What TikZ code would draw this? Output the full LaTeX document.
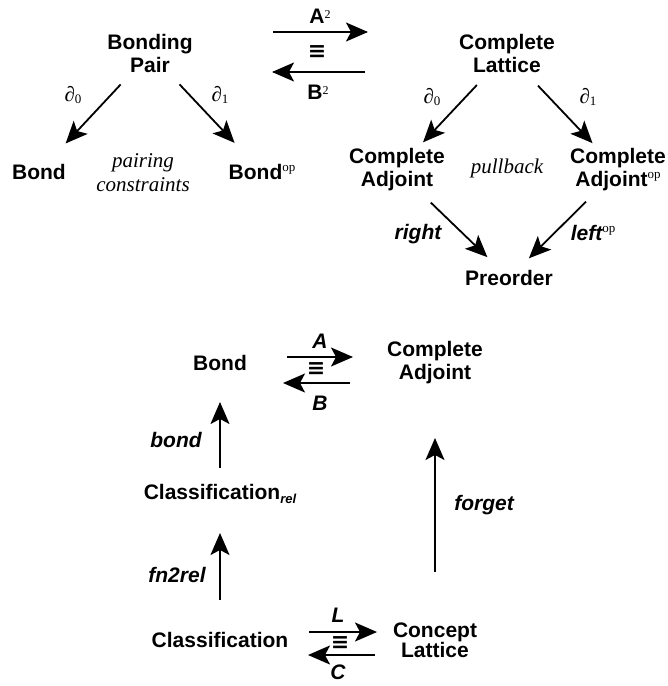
\documentclass[tikz,border=0pt]{standalone}
\usepackage{fontspec}
\setmainfont{Liberation Sans}
\newfontfamily\tms{Liberation Serif}
\newfontfamily\djv{DejaVu Sans}
\usetikzlibrary{arrows.meta}
\newcommand{\supop}{\raisebox{8pt}{\tms\mdseries\upshape\fontsize{13}{13}\selectfont op}}
\newcommand{\suptwo}{\raisebox{5pt}{\tms\mdseries\fontsize{12}{12}\selectfont 2}}
\newcommand{\pd}[1]{{\tms ∂\raisebox{-2pt}{\fontsize{13}{13}\selectfont #1}}}
\newcommand{\relsub}{\raisebox{-4pt}{\fontsize{13}{13}\selectfont\itshape rel}}
\newcommand{\eqv}{{\djv\bfseries\fontsize{22}{22}\selectfont ≡}}

\begin{document}
\begin{tikzpicture}[x=1pt,y=-1pt,
  obj/.style={font=\fontsize{21}{23}\selectfont\bfseries, align=center, inner sep=0pt},
  fn/.style={font=\fontsize{21}{23}\selectfont\bfseries\itshape, inner sep=0pt},
  note/.style={font=\fontsize{21}{24}\selectfont\tms\itshape, align=center, inner sep=0pt},
  dlbl/.style={font=\fontsize{21}{23}\selectfont, inner sep=0pt},
  arr/.style={line width=1.8pt, -{Stealth[length=22pt,width=19pt,inset=5pt]}}]
\useasboundingbox (0,0) rectangle (668,686);
% bonding pair and its projections
\node[obj] (bp) at (150,53) {Bonding\\Pair}; \node[obj] (bondl) at (39,172)
{Bond}; \node[obj] (bondop) at (262,172) {Bond\supop}; \node[note] (pc) at
(143,173) {pairing\\constraints}; \node[dlbl] (d0l) at (73,95) {\pd{0}};
\node[dlbl] (d1l) at (220,95) {\pd{1}};
\draw[arr, shorten <=43pt, shorten >=39pt] (bp.center) -- (bondl.center);
\draw[arr, shorten <=43pt, shorten >=40pt] (bp.center) -- (bondop.center);
% complete lattice as a pullback
\node[obj] (cl) at (507,53) {Complete\\Lattice}; \node[obj] (ca) at (397,170)
{Complete\\Adjoint}; \node[obj] (caop) at (618,170) {Complete\\Adjoint\supop};
\node[note] (pb) at (507,168) {pullback}; \node[obj] (pre) at (509,278)
{Preorder}; \node[dlbl] (d0r) at (432,97) {\pd{0}}; \node[dlbl] (d1r) at
(588,97) {\pd{1}}; \node[fn] (rgt) at (418,234) {right}; \node[fn] (lft) at
(593,233) {left\supop};
\draw[arr, shorten <=44pt, shorten >=38pt] (cl.center) -- (ca.center);
\draw[arr, shorten <=45pt, shorten >=37pt] (cl.center) -- (caop.center);
\draw[arr, shorten <=47pt, shorten >=30pt] (ca.center) -- (pre.center);
\draw[arr, shorten <=45pt, shorten >=28pt] (caop.center) -- (pre.center);
% equivalence at the top
\node[obj] (a2) at (320,16) {A\suptwo}; \node[obj] (eqa) at (317,52) {\eqv};
\node[obj] (b2) at (318,92) {B\suptwo};
\draw[arr, shorten <=123pt, shorten >=139pt] ([yshift=21pt]bp.center) --
([yshift=21pt]cl.center);
\draw[arr, shorten <=142pt, shorten >=122pt] ([yshift=-19pt]cl.center) --
([yshift=-19pt]bp.center);
% bonds and complete adjoints
\node[obj] (bondb) at (220,363) {Bond}; \node[obj] (cab) at (435,363)
{Complete\\Adjoint}; \node[fn] (fa) at (320,341) {A}; \node[obj] (eqb) at
(316,369) {\eqv}; \node[fn] (fb) at (320,403) {B};
\draw[arr, shorten <=67pt, shorten >=82pt] ([yshift=6pt]bondb.center) --
([yshift=6pt]cab.center);
\draw[arr, shorten <=85pt, shorten >=63pt] ([yshift=-20pt]cab.center) --
([yshift=-20pt]bondb.center);
% classifications and concept lattices
\node[obj] (clr) at (220,494) {Classification\relsub}; \node[obj] (cls) at
(220,640) {Classification}; \node[obj, font=\fontsize{21}{20}\selectfont
\bfseries] (cpt) at (435,640) {Concept\\Lattice}; \node[fn] (bnd) at (176,440)
{bond}; \node[fn] (f2r) at (177,575) {fn2rel}; \node[fn] (fgt) at (484,505)
{forget}; \node[fn] (fl) at (338,615) {L}; \node[obj] (eqc) at (340,643)
{\eqv}; \node[fn] (fc) at (338,672) {C};
\draw[arr, shorten <=26pt, shorten >=39pt] (clr.center) -- (bondb.center);
\draw[arr, shorten <=40pt, shorten >=39pt] (cls.center) -- (clr.center);
\draw[arr, shorten <=68pt, shorten >=75pt] (cpt.center) -- (cab.center);
\draw[arr, shorten <=89pt, shorten >=58pt] ([yshift=8pt]cls.center) --
([yshift=8pt]cpt.center);
\draw[arr, shorten <=60pt, shorten >=88pt] ([yshift=-15pt]cpt.center) --
([yshift=-15pt]cls.center);
\end{tikzpicture}
\end{document}
